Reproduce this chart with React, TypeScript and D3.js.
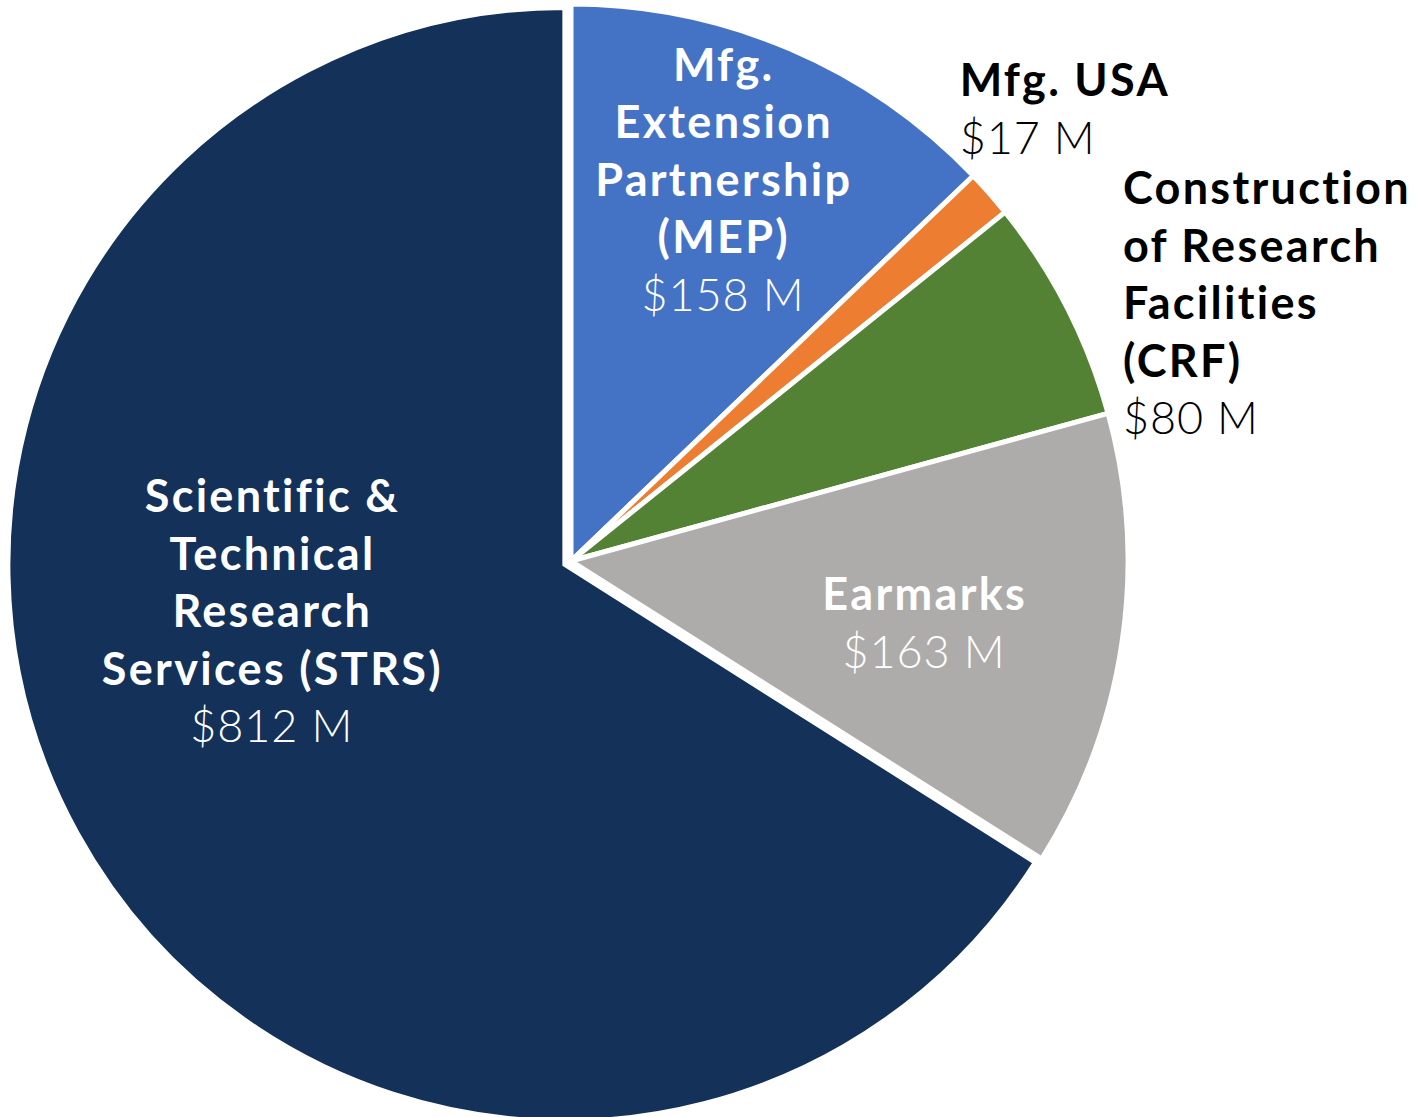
import * as d3 from 'd3';
import { useEffect, useRef } from "react";

const categories = [
  ['Mfg.', 'Extension', 'Partnership', '(MEP)'],
  ['Mfg. USA'],
  ['Construction', 'of Research', 'Facilities', '(CRF)'],
  ['Earmarks'],
  ['Scientific &', 'Technical', 'Research', 'Services (STRS)'],
];
const values = [158, 17, 80, 163, 812];
const valueLabels = ['$158 M', '$17 M', '$80 M', '$163 M', '$812 M'];
const colors = ['#4472C4', '#ED7D31', '#548235', '#AEABAB', '#133159'];

// label placement: angle from top (deg), distance from centre, inside or outside
const labelPlace = [
  { a: 21.7, r: 410, inside: true },
  { a: 40.7, r: 596, inside: false },
  { a: 65.0, r: 609, inside: false },
  { a: 100, r: 358, inside: true },
  { a: 260.4, r: 304, inside: true },
];

const App = () => {
  const svgRef = useRef(null);
  const width = 1419, height = 1117;

  useEffect(() => {
    const svg = d3.select(svgRef.current);
    svg.selectAll('*').remove();

    const cx = 571, cy = 561, radius = 557;
    const explode = 7;

    const pie = d3.pie().sort(null).value(d => d)(values);
    const arc = d3.arc().innerRadius(0).outerRadius(radius);

    const g = svg.append('g').attr('transform', `translate(${cx},${cy})`);

    g.selectAll('path')
      .data(pie)
      .enter()
      .append('path')
      .attr('d', arc)
      .attr('fill', (d, i) => colors[i])
      .attr('stroke', '#fff')
      .attr('stroke-width', 5)
      .attr('stroke-linejoin', 'miter')
      .attr('transform', (d, i) => {
        if (i !== 4) return null;
        const mid = (d.startAngle + d.endAngle) / 2;
        return `translate(${Math.sin(mid) * explode},${-Math.cos(mid) * explode})`;
      });

    const lineH = 57.5;
    const fontSize = 45;

    labelPlace.forEach((p, i) => {
      const ang = p.a * Math.PI / 180;
      const x = Math.sin(ang) * p.r;
      const y = -Math.cos(ang) * p.r;
      const lines = categories[i].map(t => ({ t, bold: true }))
        .concat([{ t: valueLabels[i], bold: false }]);
      const top = y - (lines.length - 1) * lineH / 2;
      const txt = g.append('text')
        .attr('text-anchor', p.inside ? 'middle' : 'start')
        .attr('font-family', '"Century Gothic", Lato, sans-serif')
        .attr('font-size', fontSize)
        .style('font-variant-ligatures', 'none')
        .attr('fill', p.inside ? '#fff' : '#000');
      lines.forEach((l, k) => {
        const ls = l.bold ? 2.3 : 0.9;
        txt.append('tspan')
          .attr('x', p.inside ? x + ls / 2 : x)
          .attr('y', top + k * lineH)
          .attr('dy', '0.35em')
          .attr('font-weight', l.bold ? 700 : 300)
          .attr('letter-spacing', ls)
          .text(l.t);
      });
    });
  }, []);

  return (
    <svg ref={svgRef} width={width} height={height}
      style={{ position: 'absolute', left: 0, top: 0, background: '#fff' }} />
  );
};

export default App;
